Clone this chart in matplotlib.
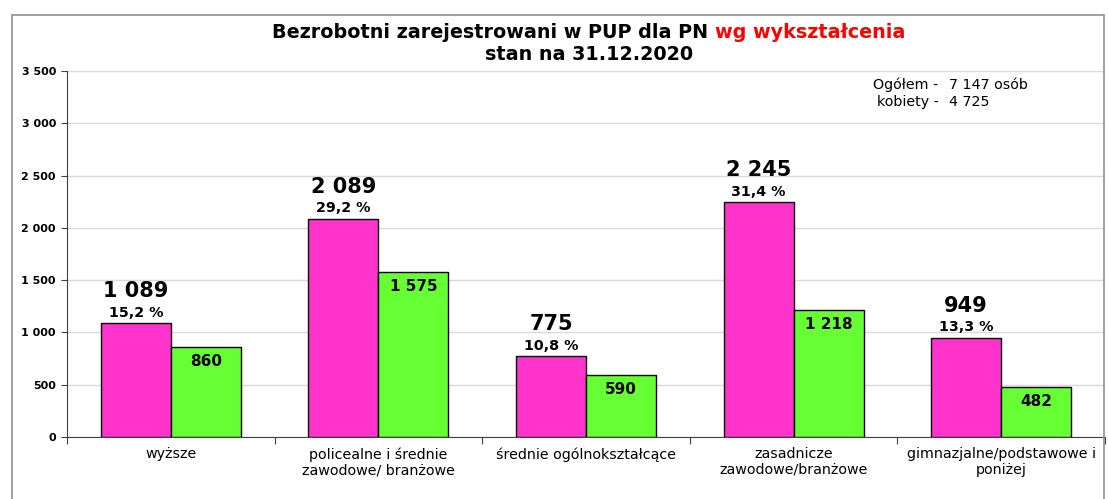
#!/usr/bin/env python3
# Bezrobotni wg wykształcenia - wykres słupkowy

import numpy as np
import matplotlib
matplotlib.use('Agg')
import matplotlib.pyplot as plt
from matplotlib.patches import Rectangle

categories = ['wyższe', 'policealne i średnie\nzawodowe/ branżowe', 'średnie ogólnokształcące',
              'zasadnicze\nzawodowe/branżowe', 'gimnazjalne/podstawowe i\nponiżej']
ogolem = [1089, 2089, 775, 2245, 949]
kobiety = [860, 1575, 590, 1218, 482]
procent = ['15,2 %', '29,2 %', '10,8 %', '31,4 %', '13,3 %']
yticks = [0, 500, 1000, 1500, 2000, 2500, 3000, 3500]

FONT = ['DejaVu Sans']

def fmt(v):
    return f"{v:,}".replace(',', ' ')

W, H = 1108, 499
fig = plt.figure(figsize=(W / 100, H / 100), dpi=100)
fig.patches.append(Rectangle((12 / W, -0.1), (1104 - 12) / W, 1.1 - 15 / H,
                             transform=fig.transFigure, fill=False,
                             edgecolor='#909090', lw=1.2))

ax = fig.add_axes([67 / W, (H - 437) / H, (1105 - 67) / W, (437 - 71) / H])
x = np.arange(len(categories))
bw = 0.337
ax.bar(x - bw / 2, ogolem, bw, color='#FF33CC', edgecolor='black', lw=1, zorder=3)
ax.bar(x + bw / 2, kobiety, bw, color='#66FF33', edgecolor='black', lw=1, zorder=3)

for i in range(len(categories)):
    ax.annotate(procent[i], (x[i] - bw / 2, ogolem[i]), xytext=(0, 7.5), textcoords='offset points',
                ha='center', va='center', fontsize=10.3, fontweight='bold', family=FONT)
    ax.annotate(fmt(ogolem[i]), (x[i] - bw / 2, ogolem[i]), xytext=(0, 23), textcoords='offset points',
                ha='center', va='center', fontsize=15, fontweight='bold', family=FONT)
    ax.annotate(fmt(kobiety[i]), (x[i] + bw / 2, kobiety[i]), xytext=(0, -10.5), textcoords='offset points',
                ha='center', va='center', fontsize=11, fontweight='bold', family=FONT)

ax.set_xlim(-0.5, len(categories) - 0.5)
ax.set_ylim(0, 3500)
ax.set_yticks(yticks)
ax.set_yticklabels([fmt(v) for v in yticks], fontsize=8, fontweight='bold', family=FONT)
ax.set_xticks(np.arange(len(categories) + 1) - 0.5)
ax.set_xticklabels([])
ax.tick_params(axis='x', length=5, direction='out', color='#404040')
ax.tick_params(axis='y', length=4, direction='out', color='#404040', pad=4)
for i, c in enumerate(categories):
    ax.text(x[i], -0.028, c, transform=ax.get_xaxis_transform(), ha='center', va='top',
            fontsize=10.3, family=FONT, linespacing=1.15)

ax.grid(axis='y', color='#d9d9d9', lw=1, zorder=0)
for s in ['top', 'right']:
    ax.spines[s].set_visible(False)
ax.spines['left'].set_color('#404040')
ax.spines['bottom'].set_color('#404040')

# tytuł: czarny + czerwony fragment
t1 = 'Bezrobotni zarejestrowani w PUP dla PN '
t2 = 'wg wykształcenia'
renderer = fig.canvas.get_renderer()
a = fig.text(0, 0, t1, fontsize=13.8, fontweight='bold', family=FONT)
b = fig.text(0, 0, t2, fontsize=13.8, fontweight='bold', family=FONT, color='red')
wa = a.get_window_extent(renderer).width
wb = b.get_window_extent(renderer).width
x0 = 589 - (wa + wb) / 2
a.set_position((x0 / W, (H - 32) / H)); a.set_va('center')
b.set_position(((x0 + wa) / W, (H - 32) / H)); b.set_va('center')
fig.text(589 / W, (H - 55) / H, 'stan na 31.12.2020', ha='center', va='center',
         fontsize=13.8, fontweight='bold', family=FONT)

# ramka z sumami
fig.text(873 / W, (H - 85) / H, 'Ogółem -', ha='left', va='center', fontsize=10.3, family=FONT)
fig.text(949 / W, (H - 85) / H, '7 147 osób', ha='left', va='center', fontsize=10.3, family=FONT)
fig.text(877 / W, (H - 102) / H, 'kobiety -', ha='left', va='center', fontsize=10.3, family=FONT)
fig.text(949 / W, (H - 102) / H, '4 725', ha='left', va='center', fontsize=10.3, family=FONT)

plt.savefig('out.png', dpi=100)
plt.close()
